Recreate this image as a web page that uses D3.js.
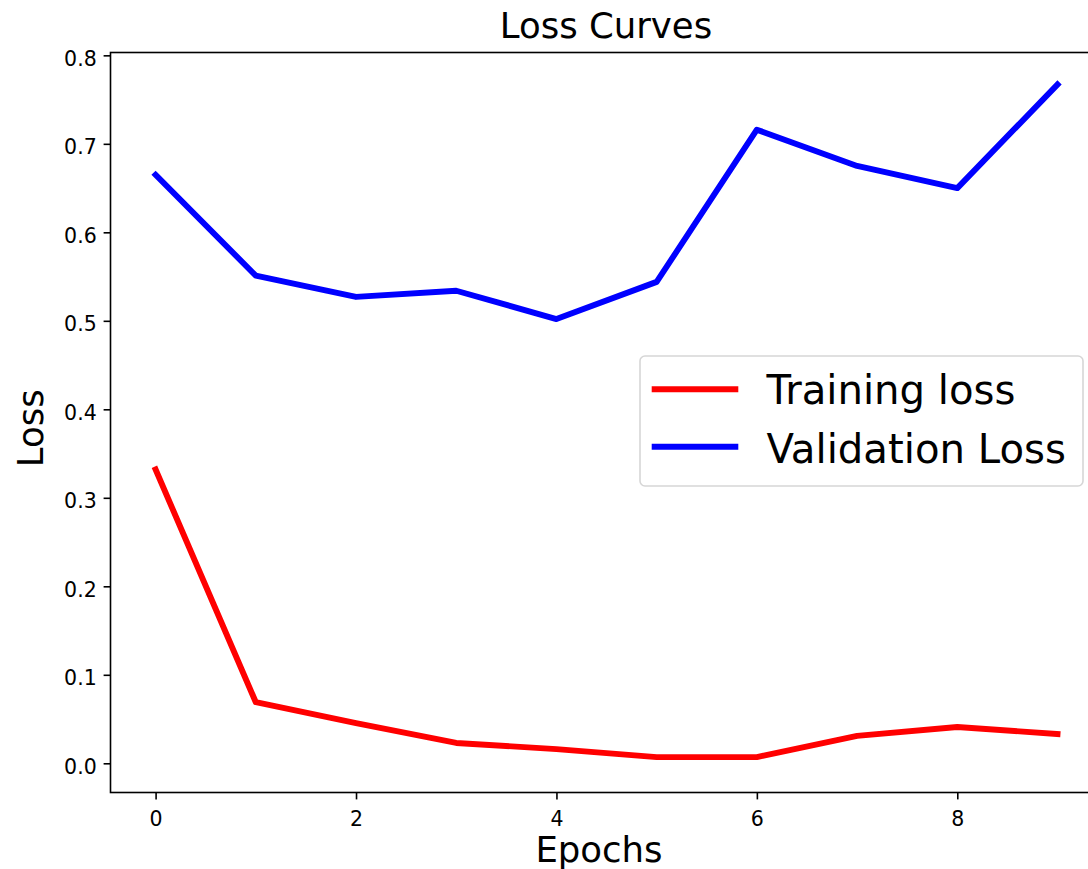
<!DOCTYPE html>
<html>
<head>
<meta charset="utf-8">
<script src="https://cdn.jsdelivr.net/npm/d3@7"></script>
<style>
  html, body { margin: 0; padding: 0; background: #fff; }
  svg { display: block; font-family: "DejaVu Sans", sans-serif; }
</style>
</head>
<body>
<svg id="chart" width="1088" height="869"></svg>
<script>
// ---- data ----
const epochs = [0, 1, 2, 3, 4, 5, 6, 7, 8, 9];
const trainingLoss = [0.332, 0.069, 0.0455, 0.023, 0.016, 0.007, 0.007, 0.031, 0.041, 0.033];
const validationLoss = [0.665, 0.551, 0.527, 0.534, 0.502, 0.544, 0.716, 0.675, 0.650, 0.767];
const xTicks = [0, 2, 4, 6, 8];
const yTicks = [0.0, 0.1, 0.2, 0.3, 0.4, 0.5, 0.6, 0.7, 0.8];
const seriesNames = ["Training loss", "Validation Loss"];
const seriesColors = ["#ff0000", "#0000ff"];
const titleText = "Loss Curves";
const xLabelText = "Epochs";
const yLabelText = "Loss";

(function () {
// ---- layout ----
const W = 1088, H = 869;
const axLeft = 110.5, axRight = 1102.6, axTop = 52.5, axBottom = 792.5;
const svg = d3.select("#chart");
svg.append("rect").attr("width", W).attr("height", H).attr("fill", "#fff");

const x = d3.scaleLinear().domain([-0.45, 9.45]).range([axLeft, axRight]);
const y = d3.scaleLinear().domain([-0.033, 0.8032]).range([axBottom, axTop]);

// clip
svg.append("clipPath").attr("id", "clip")
  .append("rect").attr("x", axLeft).attr("y", axTop)
  .attr("width", axRight - axLeft).attr("height", axBottom - axTop);

// lines
const series = [trainingLoss, validationLoss];
const line = d3.line().x((d, i) => x(epochs[i])).y(d => y(d));
const gLines = svg.append("g").attr("clip-path", "url(#clip)");
series.forEach((s, k) => {
  gLines.append("path")
    .datum(s)
    .attr("d", line)
    .attr("fill", "none")
    .attr("stroke", seriesColors[k])
    .attr("stroke-width", 5.9)
    .attr("stroke-linejoin", "round")
    .attr("stroke-linecap", "square");
});

// axes
const tickLen = 6.9, tickPad = 6.9;
const gx = svg.append("g").attr("transform", `translate(0,${axBottom})`)
  .call(d3.axisBottom(x).tickValues(xTicks).tickFormat(d3.format("d"))
    .tickSize(tickLen).tickPadding(tickPad));
gx.select(".domain").remove();
gx.selectAll(".tick line").attr("stroke", "#000").attr("stroke-width", 1.6);
gx.selectAll(".tick text").attr("font-size", 20.5).attr("fill", "#000")
  .attr("font-family", "DejaVu Sans").attr("y", 33.2).attr("dy", 0);

const gy = svg.append("g").attr("transform", `translate(${axLeft},0)`)
  .call(d3.axisLeft(y).tickValues(yTicks).tickFormat(d3.format(".1f"))
    .tickSize(tickLen).tickPadding(tickPad));
gy.select(".domain").remove();
gy.selectAll(".tick line").attr("stroke", "#000").attr("stroke-width", 1.6);
gy.selectAll(".tick text").attr("font-size", 20.5).attr("fill", "#000")
  .attr("font-family", "DejaVu Sans").attr("dy", 10);

// spines
svg.append("rect").attr("x", axLeft).attr("y", axTop)
  .attr("width", axRight - axLeft).attr("height", axBottom - axTop)
  .attr("fill", "none").attr("stroke", "#000").attr("stroke-width", 1.6);

// title & labels
svg.append("text").attr("x", 606).attr("y", 38.3)
  .attr("text-anchor", "middle").attr("font-size", 35.5).attr("fill", "#000")
  .text(titleText);
svg.append("text").attr("x", 599).attr("y", 861.5)
  .attr("text-anchor", "middle").attr("font-size", 35.5).attr("fill", "#000")
  .text(xLabelText);
svg.append("text").attr("transform", "translate(43.3,428.3) rotate(-90)")
  .attr("text-anchor", "middle").attr("font-size", 35.5).attr("fill", "#000")
  .text(yLabelText);

// legend
const lg = svg.append("g");
lg.append("rect").attr("x", 640).attr("y", 356).attr("width", 443).attr("height", 130)
  .attr("rx", 5).attr("ry", 5)
  .attr("fill", "#fff").attr("fill-opacity", 0.8)
  .attr("stroke", "#d6d6d6").attr("stroke-width", 1.6);
const handleY = [389.3, 446.7];
const textY = [404, 462.7];
seriesNames.forEach((name, k) => {
  lg.append("line").attr("x1", 651.7).attr("x2", 738.3)
    .attr("y1", handleY[k]).attr("y2", handleY[k])
    .attr("stroke", seriesColors[k]).attr("stroke-width", 5.9);
  lg.append("text").attr("x", 766.5).attr("y", textY[k])
    .attr("font-size", 40.2).attr("fill", "#000").text(name);
});
})();
</script>
</body>
</html>
